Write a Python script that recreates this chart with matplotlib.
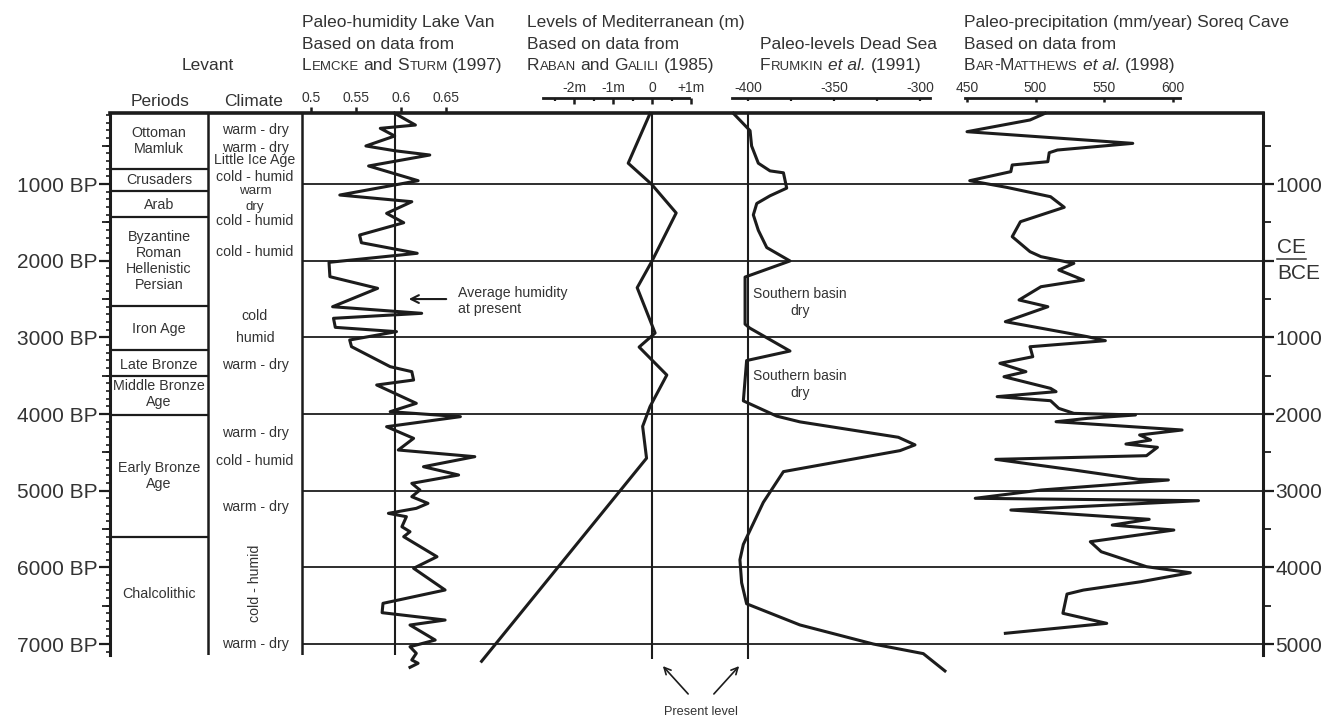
import matplotlib
matplotlib.use('Agg')
import matplotlib.pyplot as plt
from matplotlib.ticker import MultipleLocator, FixedLocator

plt.rcParams['font.family'] = ['Liberation Sans', 'DejaVu Sans']

# ---- data (years BP on the vertical axis) ----
major_bp = [1000, 2000, 3000, 4000, 5000, 6000, 7000]
left_labels = ['1000 BP', '2000 BP', '3000 BP', '4000 BP', '5000 BP', '6000 BP', '7000 BP']
right_labels = ['1000', '', '1000', '2000', '3000', '4000', '5000']

period_edges = [805, 1090, 1430, 2590, 3170, 3505, 4012, 5604]
period_names = ['Ottoman\nMamluk', 'Crusaders', 'Arab', 'Byzantine\nRoman\nHellenistic\nPersian',
                'Iron Age', 'Late Bronze', 'Middle Bronze\nAge', 'Early Bronze\nAge', 'Chalcolithic']
period_mid = [438, 947, 1273, 2004, 2891, 3360, 3740, 4808, 6348]

climate_text = ['warm - dry', 'warm - dry', 'Little Ice Age', 'cold - humid', 'warm', 'dry',
                'cold - humid', 'cold - humid', 'cold', 'humid', 'warm - dry', 'warm - dry',
                'cold - humid', 'warm - dry', 'cold - humid', 'warm - dry']
climate_bp = [295, 530, 686, 908, 1084, 1293, 1481, 1886, 2721, 3008, 3360, 4247,
              4612, 5213, 6204, 7000]

# Lake Van paleo-humidity
van_bp = [77, 230, 273, 373, 503, 565, 621, 764, 956, 1143, 1230, 1382, 1504, 1665, 1765,
          1903, 2021, 2208, 2360, 2600, 2686, 2751, 2869, 2925, 3034, 3121, 3382, 3447, 3556,
          3621, 3860, 3969, 4034, 4165, 4317, 4469, 4556, 4687, 4795, 4904, 4991, 5078, 5165,
          5230, 5295, 5339, 5470, 5535, 5600, 5861, 6012, 6295, 6469, 6591, 6687, 6752, 6948,
          7035, 7121, 7208, 7251, 7304]
van_val = [0.593, 0.616, 0.577, 0.593, 0.561, 0.593, 0.632, 0.564, 0.619, 0.532, 0.612, 0.584,
           0.603, 0.554, 0.556, 0.618, 0.520, 0.521, 0.574, 0.524, 0.623, 0.525, 0.527, 0.595,
           0.543, 0.545, 0.588, 0.612, 0.614, 0.573, 0.617, 0.588, 0.666, 0.584, 0.614, 0.597,
           0.682, 0.625, 0.664, 0.612, 0.621, 0.612, 0.630, 0.617, 0.586, 0.606, 0.601, 0.610,
           0.603, 0.640, 0.614, 0.649, 0.580, 0.579, 0.649, 0.610, 0.638, 0.610, 0.617, 0.612,
           0.619, 0.610]
van_present = 0.593

# Mediterranean level (m)
med_bp = [78, 728, 1003, 1377, 2004, 2352, 2943, 3126, 3491, 3902, 4161, 4576, 7225]
med_m = [-0.05, -0.61, -0.01, 0.62, 0.0, -0.38, 0.08, -0.33, 0.38, -0.05, -0.24, -0.14, -4.37]

# Dead Sea level (m)
ds_bp = [78, 304, 503, 728, 828, 853, 1053, 1153, 1253, 1402, 1603, 1828, 2003, 2213, 2827,
         2878, 3178, 3302, 3828, 4027, 4102, 4303, 4402, 4477, 4751, 5152, 5700, 5901, 6201,
         6475, 6751, 7000, 7125, 7351]
ds_lvl = [-408.5, -398.8, -397.9, -394, -387.2, -379.4, -377.5, -387.2, -394.9, -396.9, -394,
          -389.1, -375.6, -401.7, -401.7, -399, -375.6, -400.8, -402.7, -383.3, -369.8, -312.6,
          -302.9, -311.6, -379.4, -391.1, -402.7, -404.7, -403.7, -400.8, -369.8, -327.1,
          -298.1, -285.5]

# Soreq Cave paleo-precipitation (mm/year)
sq_bp = [77, 164, 317, 469, 556, 591, 708, 751, 838, 956, 1043, 1165, 1303, 1491, 1686, 1882,
         1947, 2034, 2121, 2252, 2339, 2512, 2600, 2795, 2991, 3043, 3122, 3252, 3338, 3447,
         3513, 3665, 3708, 3773, 3826, 3926, 3991, 4012, 4056, 4100, 4208, 4273, 4339, 4391,
         4434, 4543, 4591, 4730, 4851, 4860, 4926, 4991, 5099, 5130, 5252, 5373, 5448, 5513,
         5665, 5796, 5991, 6070, 6187, 6296, 6348, 6599, 6730, 6860]
sq_mm = [507, 496, 450, 571, 516, 510, 509, 483, 482, 452, 479, 511, 521, 489, 483, 496, 504,
         528, 517, 535, 504, 488, 509, 478, 538, 551, 496, 498, 474, 493, 477, 511, 515, 472,
         511, 517, 528, 573, 538, 515, 607, 576, 584, 566, 589, 581, 471, 528, 575, 597, 552,
         504, 456, 619, 482, 583, 556, 601, 540, 548, 581, 613, 577, 535, 523, 520, 552, 478]

# ---- figure layout (pixel based) ----
W, H = 1331, 717
INK = '#1c1c1c'
TXT = '#333333'
X0, X1, Y0, Y1 = 110, 1263, 113, 655
BP_TOP, BP_BOT = 73, 7143
rect = [X0 / W, 1 - Y1 / H, (X1 - X0) / W, (Y1 - Y0) / H]

fig = plt.figure(figsize=(W / 100, H / 100), dpi=100)
fig.patch.set_facecolor('white')

ax = fig.add_axes(rect)
ax.set_xlim(X0, X1)
ax.set_ylim(BP_BOT, BP_TOP)
ax.patch.set_alpha(0)
ax.xaxis.set_visible(False)
ax.spines['bottom'].set_visible(False)
ax.spines['top'].set_linewidth(2.6)
ax.spines['left'].set_linewidth(2.2)
ax.spines['right'].set_linewidth(2.2)
for s in ax.spines.values():
    s.set_color(INK)
    s.set_capstyle('projecting')
ax.set_yticks(major_bp)
ax.set_yticklabels(left_labels)
ax.yaxis.set_minor_locator(MultipleLocator(100))
ax.tick_params(axis='y', which='major', direction='out', length=8, width=1.6, pad=0.8,
               labelsize=15, color=INK, labelcolor=TXT, left=True, right=True)
ax.tick_params(axis='y', which='minor', direction='out', length=3, width=1.2,
               color=INK, left=True, right=True)

# right axis labels and 500-year ticks
r = ax.twinx()
r.set_ylim(BP_BOT, BP_TOP)
for s in r.spines.values():
    s.set_visible(False)
r.set_yticks(major_bp)
r.set_yticklabels(right_labels)
r.yaxis.set_minor_locator(FixedLocator([500, 1500, 2500, 3500, 4500, 5500, 6500]))
r.tick_params(axis='y', which='major', direction='out', length=8, width=1.6, pad=0.8,
              labelsize=15, color=INK, labelcolor=TXT)
r.tick_params(axis='y', which='minor', direction='out', length=5.5, width=1.3,
              color=INK, left=True, right=True)
r.text(1.012, 1948, 'CE', transform=r.get_yaxis_transform(), fontsize=15, color=TXT,
       ha='left', va='bottom')
r.text(1.012, 2040, 'BCE', transform=r.get_yaxis_transform(), fontsize=15, color=TXT,
       ha='left', va='top')
ax.plot([1277, 1306], [1975, 1975], color=TXT, lw=1.1, clip_on=False)

# grid of millennia and table
ax.hlines(major_bp, 302, X1, colors=INK, lw=1.3)
ax.hlines(period_edges, X0, 208, colors=INK, lw=1.6)
ax.vlines([208, 302], BP_TOP, BP_BOT, colors=INK, lw=1.8)

for name, y in zip(period_names, period_mid):
    ax.text(159, y, name, ha='center', va='center', fontsize=10.3, color=TXT, linespacing=1.2)
for t, y in zip(climate_text, climate_bp):
    rot = 90 if (t == 'cold - humid' and y > 6000) else 0
    size = 9.6 if t in ('warm', 'dry') else 10.2
    ax.text(255, y, t, ha='center', va='center', fontsize=size, color=TXT, rotation=rot)


def curve_axes(ref_val, ref_px, px_per_unit):
    a = fig.add_axes(rect, sharey=ax)
    a.set_xlim(ref_val + (X0 - ref_px) / px_per_unit, ref_val + (X1 - ref_px) / px_per_unit)
    a.patch.set_visible(False)
    for s in a.spines.values():
        s.set_visible(False)
    a.yaxis.set_visible(False)
    a.xaxis.set_ticks_position('top')
    a.tick_params(axis='x', which='both', labelsize=10, color=INK, labelcolor=TXT)
    return a


def scale_spine(a, lo, hi):
    sp = a.spines['top']
    sp.set_visible(True)
    sp.set_position(('outward', 10.8))
    sp.set_bounds(lo, hi)
    sp.set_linewidth(2.0)
    sp.set_color(INK)


# Lake Van
va = curve_axes(0.5, 311, 900)
va.set_xticks([0.5, 0.55, 0.6, 0.65])
va.set_xticklabels(['0.5', '0.55', '0.6', '0.65'])
va.tick_params(axis='x', direction='out', length=4.5, width=1.8, pad=1.5)
va.vlines(van_present, BP_TOP, BP_BOT, colors=INK, lw=1.5)
va.plot(van_val, van_bp, color=INK, lw=2.2, clip_on=False)

# Mediterranean
ma = curve_axes(0, 652, 39)
scale_spine(ma, -2.8, 0.95)
ma.set_xticks([-2, -1, 0, 1])
ma.set_xticklabels(['-2m', '-1m', '0', '+1m'])
ma.xaxis.set_minor_locator(FixedLocator([-2.5, -1.5, -0.5, 0.5]))
ma.tick_params(axis='x', which='major', direction='in', length=4.5, width=1.8, pad=2)
ma.tick_params(axis='x', which='minor', direction='in', length=2.5, width=1.6)
ma.vlines(0, BP_TOP, 7200, colors=INK, lw=1.5, clip_on=False)
ma.plot(med_m, med_bp, color=INK, lw=2.2, clip_on=False)

# Dead Sea
da = curve_axes(-400, 748, 1.72)
scale_spine(da, -409.3, -294.2)
da.set_xticks([-400, -350, -300])
da.set_xticklabels(['-400', '-350', '-300'])
da.xaxis.set_minor_locator(FixedLocator([-375, -325]))
da.tick_params(axis='x', which='both', direction='in', length=2.5, width=1.6, pad=2)
da.vlines(-400, BP_TOP, 7200, colors=INK, lw=1.5, clip_on=False)
da.plot(ds_lvl, ds_bp, color=INK, lw=2.2, clip_on=False)

# Soreq Cave
sa = curve_axes(450, 967, 1.37)
scale_spine(sa, 448.5, 605.5)
sa.set_xticks([450, 500, 550, 600])
sa.set_xticklabels(['450', '500', '550', '600'])
sa.tick_params(axis='x', direction='in', length=3, width=1.8, pad=2)
sa.plot(sq_mm, sq_bp, color=INK, lw=2.2, clip_on=False)

# annotations
ax.annotate('', xy=(406, 2500), xytext=(449, 2500),
            arrowprops=dict(arrowstyle='->', lw=1.5, color=INK, mutation_scale=14))
ax.text(458, 2530, 'Average humidity\nat present', ha='left', va='center', fontsize=10.2,
        color=TXT, linespacing=1.2)
ax.text(800, 2541, 'Southern basin\ndry', ha='center', va='center', fontsize=10,
        color=TXT, linespacing=1.25)
ax.text(800, 3615, 'Southern basin\ndry', ha='center', va='center', fontsize=10,
        color=TXT, linespacing=1.25)
for head, tail in [((661, 7261), (690, 7678)), ((741, 7261), (712, 7678))]:
    ax.annotate('', xy=head, xytext=tail, annotation_clip=False,
                arrowprops=dict(arrowstyle='->', lw=1.2, color=INK, mutation_scale=12))
ax.text(701, 7887, 'Present level', ha='center', va='center', fontsize=9.2, color=TXT,
        clip_on=False)

# ---- header texts (small caps emulated with smaller capitals) ----
renderer = fig.canvas.get_renderer()
BIG, SMALL = 12.5, 9.5


def header_line(x, y_base, pieces):
    cur = x
    for txt, kind in pieces:
        size = SMALL if kind == 's' else BIG
        if txt == ' ':
            cur += 0.278 * size * 100 / 72
            continue
        t = fig.text(cur / W, 1 - y_base / H, txt, fontsize=size, color=TXT,
                     fontstyle='italic' if kind == 'i' else 'normal', ha='left', va='baseline')
        cur += t.get_window_extent(renderer).width


n, s, i, sp = 'n', 's', 'i', (' ', 'n')
header_line(302, 27.5, [('Paleo-humidity Lake Van', n)])
header_line(302, 49, [('Based on data from', n)])
header_line(302, 70, [('L', n), ('EMCKE', s), sp, ('and', n), sp, ('S', n), ('TURM', s), sp, ('(1997)', n)])

header_line(527, 27.5, [('Levels of Mediterranean (m)', n)])
header_line(527, 49, [('Based on data from', n)])
header_line(527, 70, [('R', n), ('ABAN', s), sp, ('and', n), sp, ('G', n), ('ALILI', s), sp, ('(1985)', n)])

header_line(760, 49, [('Paleo-levels Dead Sea', n)])
header_line(760, 70, [('F', n), ('RUMKIN', s), sp, ('et al.', i), sp, ('(1991)', n)])

header_line(964, 27.5, [('Paleo-precipitation (mm/year) Soreq Cave', n)])
header_line(964, 49, [('Based on data from', n)])
header_line(964, 70, [('B', n), ('AR', s), ('-', n), ('M', n), ('ATTHEWS', s), sp, ('et al.', i), sp, ('(1998)', n)])

fig.text(208 / W, 1 - 70 / H, 'Levant', fontsize=BIG, color=TXT, ha='center', va='baseline')
fig.text(160 / W, 1 - 106 / H, 'Periods', fontsize=BIG, color=TXT, ha='center', va='baseline')
fig.text(254 / W, 1 - 106 / H, 'Climate', fontsize=BIG, color=TXT, ha='center', va='baseline')

fig.savefig('out.png', dpi=100, facecolor='white')
